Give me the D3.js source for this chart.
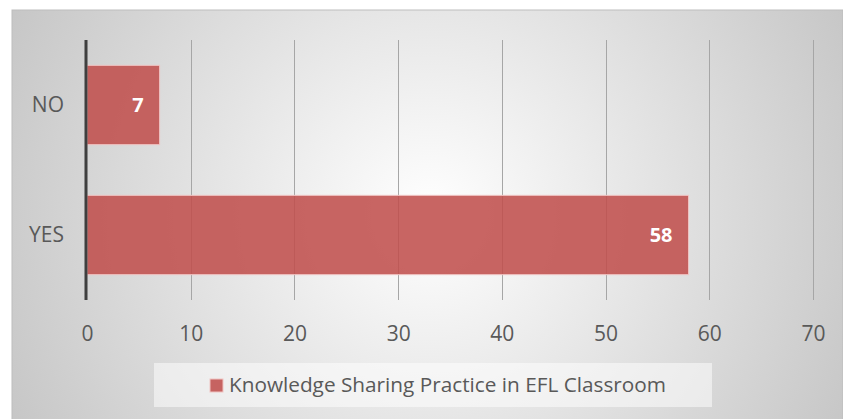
<!DOCTYPE html>
<html><head><meta charset="utf-8">
<script src="https://cdn.jsdelivr.net/npm/d3@7"></script>
<style>body{margin:0;background:#fff}svg{display:block}</style>
</head><body>
<svg id="c" width="843" height="419"></svg>
<script>
const categories = ["NO", "YES"];
const values = [7, 58];
const xTicks = [0, 10, 20, 30, 40, 50, 60, 70];
const seriesName = "Knowledge Sharing Practice in EFL Classroom";

const svg = d3.select("#c");
const W = 843, H = 419;
const defs = svg.append("defs");
const rg = defs.append("radialGradient").attr("id","bg").attr("gradientUnits","userSpaceOnUse")
  .attr("cx",430).attr("cy",215).attr("r",470);
rg.append("stop").attr("offset","0").attr("stop-color","#ffffff");
rg.append("stop").attr("offset","1").attr("stop-color","#c6c6c6");

svg.append("rect").attr("x",12).attr("y",10).attr("width",W-12).attr("height",H-10+2)
  .attr("fill","url(#bg)").attr("stroke","#bdbdbd").attr("stroke-width",1);

const m = {left:87, right:813, top:40, bottom:300};
const x = d3.scaleLinear().domain([0,70]).range([m.left, m.right]);
const y = d3.scaleBand().domain(categories).range([m.top, m.bottom]).paddingInner(0.39).paddingOuter(0.195);

const font = "'Open Sans', 'Liberation Sans', sans-serif";
// gridlines
svg.append("g").selectAll("line").data(xTicks.slice(1)).join("line")
  .attr("x1",d=>Math.round(x(d))+0.5).attr("x2",d=>Math.round(x(d))+0.5)
  .attr("y1",m.top).attr("y2",m.bottom).attr("stroke","#a6a6a6").attr("stroke-width",1);

// bars
svg.append("g").selectAll("rect").data(values).join("rect")
  .attr("x",x(0)).attr("y",(d,i)=>y(categories[i]))
  .attr("width",d=>x(d)-x(0)).attr("height",y.bandwidth())
  .attr("fill","#c0504d").attr("fill-opacity",0.88)
  .attr("stroke","#f0c4c2").attr("stroke-width",1);

// value labels
svg.append("g").selectAll("text").data(values).join("text")
  .attr("x",d=>x(d)-16).attr("y",(d,i)=>y(categories[i])+y.bandwidth()/2)
  .attr("dy","0.36em").attr("text-anchor","end")
  .attr("font-family",font).attr("font-weight","bold").attr("font-size",20)
  .attr("fill","#ffffff").text(d=>d);

// zero axis line
svg.append("line").attr("x1",x(0)-1).attr("x2",x(0)-1).attr("y1",m.top).attr("y2",m.bottom)
  .attr("stroke","#3f3f3f").attr("stroke-width",3);

// x axis
const xa = svg.append("g").attr("transform",`translate(0,${m.bottom})`)
  .call(d3.axisBottom(x).tickValues(xTicks).tickSize(0).tickPadding(26).tickFormat(d3.format("d")));
xa.select(".domain").remove();
xa.selectAll("text").attr("font-family",font).attr("font-size",21).attr("fill","#595959");

// y axis
const ya = svg.append("g").attr("transform",`translate(${m.left},0)`)
  .call(d3.axisLeft(y).tickSize(0).tickPadding(23));
ya.select(".domain").remove();
ya.selectAll("text").attr("font-family",font).attr("font-size",21).attr("fill","#595959");

// legend
const lg = svg.append("g");
lg.append("rect").attr("x",154).attr("y",363).attr("width",558).attr("height",44)
  .attr("fill","#ffffff").attr("fill-opacity",0.5);
lg.append("rect").attr("x",210).attr("y",379).attr("width",13).attr("height",13)
  .attr("fill","#c0504d").attr("fill-opacity",0.88).attr("stroke","#f0c4c2");
lg.append("text").attr("x",229).attr("y",392)
  .attr("font-family",font).attr("font-size",20).attr("fill","#595959")
  .attr("textLength",437).attr("lengthAdjust","spacingAndGlyphs").text(seriesName);
</script>
</body></html>
